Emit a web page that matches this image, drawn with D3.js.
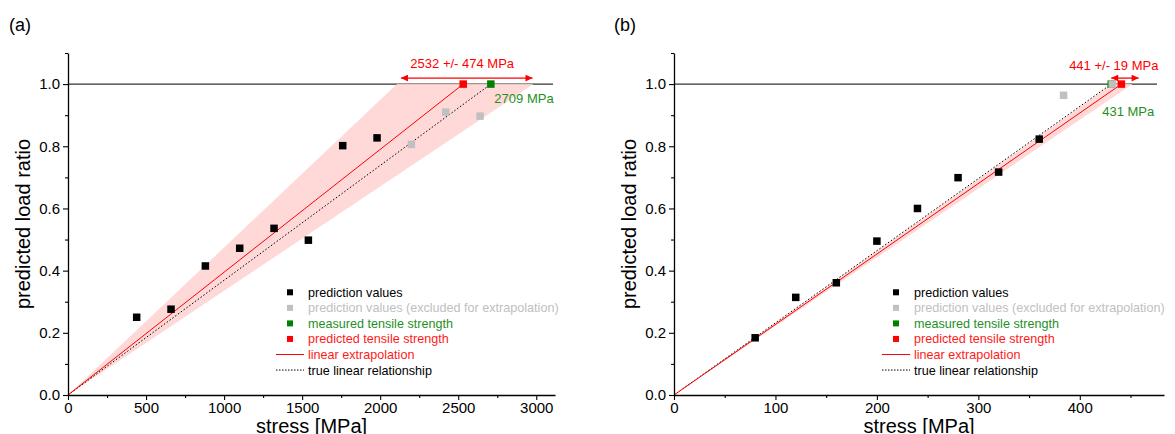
<!DOCTYPE html>
<html>
<head>
<meta charset="utf-8">
<script src="https://cdn.jsdelivr.net/npm/d3@7/dist/d3.min.js"></script>
<style>
  html, body { margin: 0; padding: 0; background: #fff; }
  svg { display: block; font-family: "Liberation Sans", Arial, sans-serif; }
</style>
</head>
<body>
<svg id="chart" width="1175" height="434"></svg>
<script>
// ---------- Panel (a) data ----------
const aStressPred = [440, 660, 880, 1100, 1320, 1540, 1760, 1980];
const aRatioPred  = [0.250, 0.276, 0.415, 0.472, 0.536, 0.498, 0.802, 0.827];
const aStressExcl = [2200, 2420, 2640];
const aRatioExcl  = [0.806, 0.910, 0.897];
const aMeasured   = [2709];
const aPredicted  = [2532];
const aBand       = [2108, 2982];
const aArrow      = [2133, 2976];
const aXTicks     = [0, 500, 1000, 1500, 2000, 2500, 3000];
const aXMinor     = [250, 750, 1250, 1750, 2250, 2750];
const aXMax       = 3120;
const aLabelPred  = "2532 +/- 474 MPa";
const aLabelMeas  = "2709 MPa";

// ---------- Panel (b) data ----------
const bStressPred = [80, 120, 160, 200, 240, 280, 320, 360];
const bRatioPred  = [0.184, 0.314, 0.361, 0.495, 0.600, 0.699, 0.717, 0.823];
const bStressExcl = [384, 432];
const bRatioExcl  = [0.964, 1.0];
const bMeasured   = [431];
const bPredicted  = [441];
const bBand       = [432, 452];
const bArrow      = [431, 458];
const bXTicks     = [0, 100, 200, 300, 400];
const bXMinor     = [50, 150, 250, 350, 450];
const bXMax       = 483;
const bLabelPred  = "441 +/- 19 MPa";
const bLabelMeas  = "431 MPa";

// ---------- shared ----------
const yTicks = [0, 0.2, 0.4, 0.6, 0.8, 1.0];
const yMinor = [0.1, 0.3, 0.5, 0.7, 0.9, 1.1];
const yMax = 1.1;
const legendItems = [
  {type: "sq", color: "#000000", text: "prediction values", tcolor: "#000000"},
  {type: "sq", color: "#c0c0c0", text: "prediction values (excluded for extrapolation)", tcolor: "#c0c0c0"},
  {type: "sq", color: "#008000", text: "measured tensile strength", tcolor: "#1f8f1f"},
  {type: "sq", color: "#ff0000", text: "predicted tensile strength", tcolor: "#ff1a1a"},
  {type: "line", color: "#ff0000", text: "linear extrapolation", tcolor: "#ff1a1a"},
  {type: "dot", color: "#000000", text: "true linear relationship", tcolor: "#000000"}
];

const RED = "#ff0000", GREEN = "#008000", GRAY = "#c0c0c0";
const svg = d3.select("#chart");
svg.append("rect").attr("width", 1175).attr("height", 434).attr("fill", "#fff");

const defs = svg.append("defs");
defs.append("marker").attr("id", "arrowR").attr("viewBox", "0 0 10 10")
  .attr("refX", 10).attr("refY", 5).attr("markerWidth", 8).attr("markerHeight", 7)
  .attr("markerUnits", "userSpaceOnUse").attr("orient", "auto-start-reverse")
  .append("path").attr("d", "M0,0 L10,5 L0,10 Z").attr("fill", RED);

function drawPanel(cfg) {
  const left = cfg.left, right = cfg.right, top = 53, bottom = 395;
  const x = d3.scaleLinear().domain([0, cfg.xMax]).range([left, right]);
  const y = d3.scaleLinear().domain([0, yMax]).range([bottom, top]);
  const g = svg.append("g");

  g.append("text").attr("x", cfg.letterX).attr("y", 31).attr("font-size", 18)
    .attr("fill", "#000").text(cfg.letter);

  g.append("line").attr("x1", left).attr("x2", cfg.refEnd)
    .attr("y1", y(1)).attr("y2", y(1)).attr("stroke", "#333").attr("stroke-width", 1.2);

  g.append("path")
    .attr("d", d3.line()([[x(0), y(0)], [x(cfg.band[0]), y(1)], [x(cfg.band[1]), y(1)]]) + "Z")
    .attr("fill", "#ffd3d3").attr("fill-opacity", 0.88);

  g.append("line").attr("x1", x(0)).attr("y1", y(0))
    .attr("x2", x(cfg.measured[0])).attr("y2", y(1))
    .attr("stroke", "#000").attr("stroke-width", 1).attr("stroke-dasharray", "1.5,2");

  g.append("line").attr("x1", x(0)).attr("y1", y(0))
    .attr("x2", x(cfg.predicted[0])).attr("y2", y(1))
    .attr("stroke", RED).attr("stroke-width", 1);

  const S = 7.5;
  function squares(xs, ys, color) {
    g.selectAll(null).data(xs.map((v, i) => [v, ys[i]])).enter().append("rect")
      .attr("x", d => x(d[0]) - S / 2).attr("y", d => y(d[1]) - S / 2)
      .attr("width", S).attr("height", S).attr("fill", color);
  }
  squares(cfg.measured, [1.0], GREEN);
  squares(cfg.excl[0], cfg.excl[1], GRAY);
  squares(cfg.pred[0], cfg.pred[1], "#000");
  squares(cfg.predicted, [1.0], RED);

  const ay = y(1) - 6;
  g.append("line").attr("x1", x(cfg.arrow[0])).attr("x2", x(cfg.arrow[1]))
    .attr("y1", ay).attr("y2", ay).attr("stroke", RED).attr("stroke-width", 1.3)
    .attr("marker-start", "url(#arrowR)").attr("marker-end", "url(#arrowR)");

  g.append("text").attr("x", x(cfg.predicted[0]) + cfg.predDx).attr("y", y(1) + cfg.predDy)
    .attr("text-anchor", cfg.predAnchor).attr("font-size", 13).attr("fill", RED).text(cfg.labelPred);
  g.append("text").attr("x", x(cfg.measured[0]) + cfg.measDx).attr("y", y(1) + cfg.measDy)
    .attr("text-anchor", cfg.measAnchor).attr("font-size", 13).attr("fill", "#1f8f1f").text(cfg.labelMeas);

  const xAxis = d3.axisBottom(x).tickValues(cfg.xTicks).tickSize(5).tickSizeOuter(0).tickPadding(2)
    .tickFormat(d3.format("d"));
  const gx = g.append("g").attr("transform", `translate(0,${bottom})`).call(xAxis);
  const xMinorAxis = d3.axisBottom(x).tickValues(cfg.xMinor).tickSize(3).tickSizeOuter(0).tickFormat("");
  const gxm = g.append("g").attr("transform", `translate(0,${bottom})`).call(xMinorAxis);
  const yAxis = d3.axisLeft(y).tickValues(yTicks).tickSize(5).tickSizeOuter(0).tickPadding(3)
    .tickFormat(d3.format(".1f"));
  const gy = g.append("g").attr("transform", `translate(${left},0)`).call(yAxis);
  const yMinorAxis = d3.axisLeft(y).tickValues(yMinor).tickSize(3).tickSizeOuter(0).tickFormat("");
  const gym = g.append("g").attr("transform", `translate(${left},0)`).call(yMinorAxis);
  [gx, gxm, gy, gym].forEach(a => {
    a.selectAll("path.domain").attr("stroke", "#000").attr("stroke-width", 1.3);
    a.selectAll(".tick line").attr("stroke", "#000").attr("stroke-width", 1.1);
    a.selectAll("text").attr("font-size", 15).attr("fill", "#000")
      .attr("font-family", '"Liberation Sans", Arial, sans-serif');
  });
  gxm.select("path.domain").remove();
  gym.select("path.domain").remove();

  g.append("text").attr("x", (left + right) / 2).attr("y", 433).attr("text-anchor", "middle")
    .attr("font-size", 20).attr("fill", "#000").text("stress [MPa]");
  g.append("text").attr("transform", `translate(${left - 38},${(top + bottom) / 2}) rotate(-90)`)
    .attr("text-anchor", "middle").attr("font-size", 20).attr("fill", "#000").text("predicted load ratio");

  const lg = g.append("g");
  legendItems.forEach((it, i) => {
    const cy = 292.3 + i * 15.55;
    const mx = left + 222;
    if (it.type === "sq") {
      lg.append("rect").attr("x", mx - 3).attr("y", cy - 3).attr("width", 6).attr("height", 6).attr("fill", it.color);
    } else {
      const ln = lg.append("line").attr("x1", left + 208).attr("x2", left + 236)
        .attr("y1", cy).attr("y2", cy).attr("stroke", it.color).attr("stroke-width", 1);
      if (it.type === "dot") ln.attr("stroke-dasharray", "1.5,1.5");
    }
    lg.append("text").attr("x", left + 240).attr("y", cy + 4.5).attr("font-size", 12.6)
      .attr("fill", it.tcolor).text(it.text);
  });
}

drawPanel({
  letter: "(a)", letterX: 9, left: 68, right: 555, refEnd: 553, xMax: aXMax,
  xTicks: aXTicks, xMinor: aXMinor,
  pred: [aStressPred, aRatioPred], excl: [aStressExcl, aRatioExcl],
  measured: aMeasured, predicted: aPredicted, band: aBand, arrow: aArrow,
  labelPred: aLabelPred, labelMeas: aLabelMeas,
  predDx: -1, predDy: -16, predAnchor: "middle",
  measDx: 3.5, measDy: 18.5, measAnchor: "start"
});
drawPanel({
  letter: "(b)", letterX: 614, left: 674, right: 1164, refEnd: 1157, xMax: bXMax,
  xTicks: bXTicks, xMinor: bXMinor,
  pred: [bStressPred, bRatioPred], excl: [bStressExcl, bRatioExcl],
  measured: bMeasured, predicted: bPredicted, band: bBand, arrow: bArrow,
  labelPred: bLabelPred, labelMeas: bLabelMeas,
  predDx: 37, predDy: -14, predAnchor: "end",
  measDx: -9, measDy: 32, measAnchor: "start"
});
</script>
</body>
</html>
